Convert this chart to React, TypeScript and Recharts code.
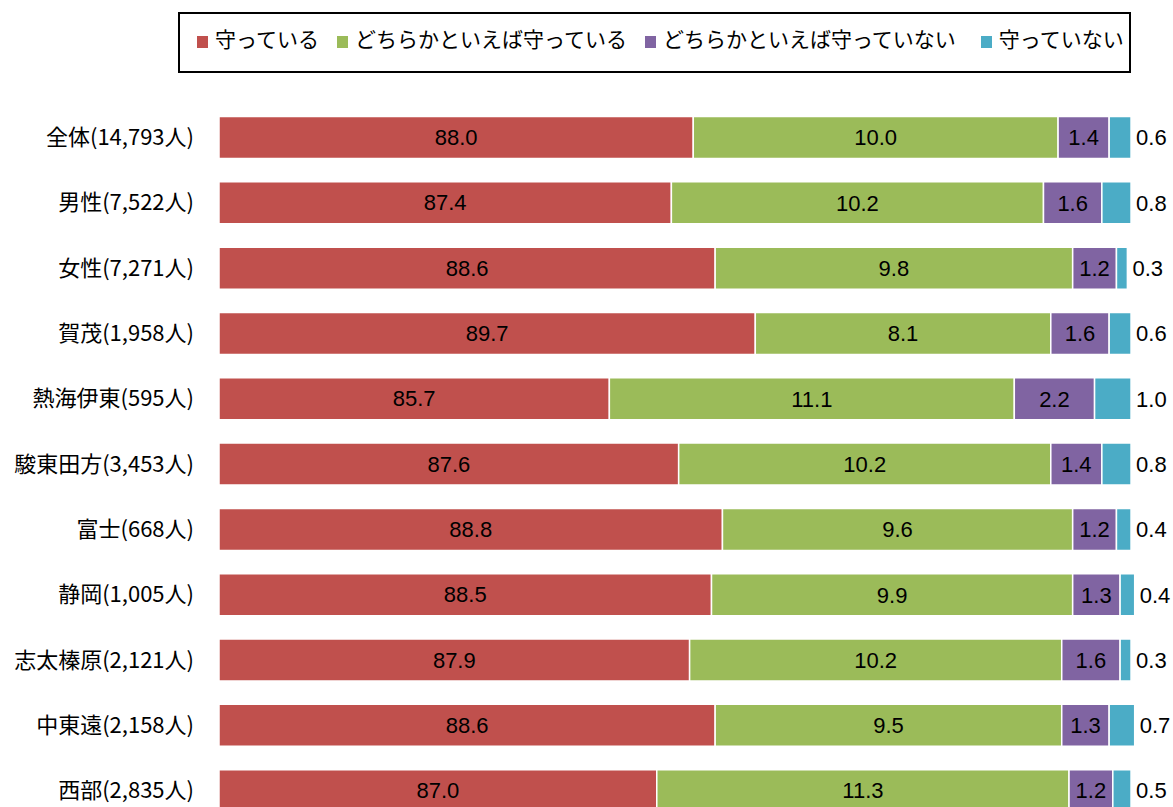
import React from "react";
import { BarChart, Bar, XAxis, YAxis, Legend, LabelList } from "recharts";

// respondents by group
const categories = [
  "全体(14,793人)",
  "男性(7,522人)",
  "女性(7,271人)",
  "賀茂(1,958人)",
  "熱海伊東(595人)",
  "駿東田方(3,453人)",
  "富士(668人)",
  "静岡(1,005人)",
  "志太榛原(2,121人)",
  "中東遠(2,158人)",
  "西部(2,835人)",
];

// percentages per answer
const keeps = [88.0, 87.4, 88.6, 89.7, 85.7, 87.6, 88.8, 88.5, 87.9, 88.6, 87.0];
const mostlyKeeps = [10.0, 10.2, 9.8, 8.1, 11.1, 10.2, 9.6, 9.9, 10.2, 9.5, 11.3];
const mostlyNot = [1.4, 1.6, 1.2, 1.6, 2.2, 1.4, 1.2, 1.3, 1.6, 1.3, 1.2];
const notKeeps = [0.6, 0.8, 0.3, 0.6, 1.0, 0.8, 0.4, 0.4, 0.3, 0.7, 0.5];

const seriesKeys = ["keep", "mostlyKeep", "mostlyNot", "notKeep"];
const seriesNames = [
  "守っている",
  "どちらかといえば守っている",
  "どちらかといえば守っていない",
  "守っていない",
];
const seriesColors = ["#C0504D", "#9BBB59", "#8064A2", "#4BACC6"];

// x axis starts at 75, the extra room on the right holds the outside labels
const AXIS_MIN = 75;
const AXIS_MAX = 101.15;
const Y_AXIS_W = 219;

const JP_FONT = '"Noto Sans CJK JP", "Noto Sans", sans-serif';
const NUM_FONT = '"Liberation Sans", Arial, sans-serif';

const data = categories.map((name, i) => ({
  name,
  keep: keeps[i],
  mostlyKeep: mostlyKeeps[i],
  mostlyNot: mostlyNot[i],
  notKeep: notKeeps[i],
}));

const fmt = (v: any) => Number(v).toFixed(1);

// first segment is cut at the axis start, so center its label in the visible part
const ClampedLabel = (props: any) => {
  const { x, y, width, height, value } = props;
  const left = Math.max(x, Y_AXIS_W);
  const cx = (left + x + width) / 2;
  return (
    <text
      x={cx}
      y={y + height / 2}
      textAnchor="middle"
      dominantBaseline="central"
      fill="#000"
      fontSize={22}
      fontFamily={NUM_FONT}
    >
      {fmt(value)}
    </text>
  );
};

const LegendBox = () => (
  <div
    style={{
      boxSizing: "border-box",
      width: "100%",
      height: "100%",
      border: "2px solid #000",
      display: "flex",
      alignItems: "flex-start",
      paddingLeft: 17,
      paddingTop: 13,
      fontFamily: JP_FONT,
      color: "#000",
    }}
  >
    {seriesNames.map((n, i) => (
      <div
        key={n}
        style={{ display: "flex", alignItems: "flex-end", marginRight: i === 2 ? 25 : 18 }}
      >
        <span
          style={{
            display: "inline-block",
            width: 11,
            height: 12,
            background: seriesColors[i],
            marginRight: 7,
            marginBottom: 1,
          }}
        />
        <span style={{ fontSize: 21, lineHeight: "22px", whiteSpace: "nowrap" }}>{n}</span>
      </div>
    ))}
  </div>
);

export default function App() {
  return (
    <div
      style={{
        position: "fixed",
        left: 0,
        top: 0,
        width: 1173,
        height: 807,
        overflow: "hidden",
        background: "#fff",
      }}
    >
      <BarChart
        width={1173}
        height={823}
        data={data}
        layout="vertical"
        margin={{ top: 43.5, right: 0, bottom: 0, left: 0 }}
        barSize={42}
      >
        <XAxis type="number" domain={[AXIS_MIN, AXIS_MAX]} allowDataOverflow hide />
        <YAxis
          type="category"
          dataKey="name"
          width={Y_AXIS_W}
          axisLine={false}
          tickLine={false}
          tickSize={0}
          tickMargin={25}
          interval={0}
          tick={{ fill: "#000", fontSize: 22, fontFamily: JP_FONT }}
        />
        <Legend
          verticalAlign="top"
          content={<LegendBox />}
          wrapperStyle={{ top: 12, left: 178, width: 953, height: 61 }}
        />
        {seriesKeys.map((k, i) => (
          <Bar
            key={k}
            dataKey={k}
            name={seriesNames[i]}
            stackId="a"
            fill={seriesColors[i]}
            stroke="#fff"
            strokeWidth={1.5}
            isAnimationActive={false}
          >
            {i === 0 && <LabelList dataKey={k} content={<ClampedLabel />} />}
            {(i === 1 || i === 2) && (
              <LabelList
                dataKey={k}
                position="center"
                formatter={fmt}
                fill="#000"
                fontSize={22}
                fontFamily={NUM_FONT}
              />
            )}
            {i === 3 && (
              <LabelList
                dataKey={k}
                position="right"
                offset={5}
                formatter={fmt}
                fill="#000"
                fontSize={22}
                fontFamily={NUM_FONT}
              />
            )}
          </Bar>
        ))}
      </BarChart>
    </div>
  );
}
